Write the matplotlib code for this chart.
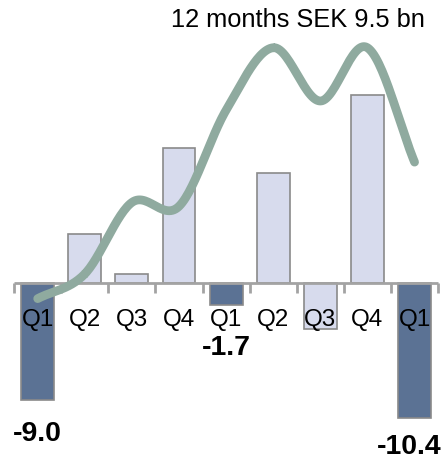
import numpy as np
import matplotlib
matplotlib.use('Agg')
import matplotlib.pyplot as plt

# quarterly result, SEK bn
quarters = ['Q1', 'Q2', 'Q3', 'Q4', 'Q1', 'Q2', 'Q3', 'Q4', 'Q1']
values = [-9.0, 3.8, 0.7, 10.4, -1.7, 8.5, -3.5, 14.5, -10.4]
# rolling 12 months, SEK bn
rolling = [-1.2, 0.7, 6.2, 5.9, 13.3, 18.1, 14.0, 18.1, 9.3]
shown_labels = {0: '-9.0', 4: '-1.7', 8: '-10.4'}
title = '12 months SEK 9.5 bn'

light = '#d7dbed'
dark = '#5b7294'
green = '#8faa9f'
grey = '#a3a3a3'


def catmull_rom(x, y, n=30):
    x = np.asarray(x, float)
    y = np.asarray(y, float)
    px = np.concatenate([[2 * x[0] - x[1]], x, [2 * x[-1] - x[-2]]])
    py = np.concatenate([[2 * y[0] - y[1]], y, [2 * y[-1] - y[-2]]])
    xs, ys = [], []
    t = np.linspace(0, 1, n)
    for i in range(1, len(px) - 2):
        for p, out in ((px, xs), (py, ys)):
            p0, p1, p2, p3 = p[i - 1], p[i], p[i + 1], p[i + 2]
            out.append(0.5 * ((2 * p1) + (-p0 + p2) * t
                              + (2 * p0 - 5 * p1 + 4 * p2 - p3) * t ** 2
                              + (-p0 + 3 * p1 - 3 * p2 + p3) * t ** 3))
    return np.concatenate(xs), np.concatenate(ys)


fig = plt.figure(figsize=(4.48, 4.61), dpi=100)
ax = fig.add_axes([0, 0, 1, 1])
ax.set_xlim(-0.8, 8.71)
ax.set_ylim(-13.69, 21.77)
ax.axis('off')

x = np.arange(len(values))
colors = [dark if q == 'Q1' else light for q in quarters]
ax.bar(x, values, width=0.7, color=colors, edgecolor='#8a8a8a', linewidth=1.2, zorder=2)

# category axis with ticks between the bars
ax.plot([-0.5, len(values) - 0.5], [0, 0], color=grey, lw=2, zorder=3, solid_capstyle='butt')
ax.vlines(np.arange(len(values) + 1) - 0.5, -0.75, 0, color=grey, lw=2, zorder=3)

for i, q in enumerate(quarters):
    ax.text(i, -2.85, q, ha='center', va='center', fontsize=17.5,
            family='Liberation Sans', zorder=5)

for i, lab in shown_labels.items():
    if i == 4:
        y = -5.0
    elif i == 8:
        y = -12.6
    else:
        y = values[i] - 2.6
    xo = -0.12 if i == 8 else 0
    ax.text(i + xo, y, lab, ha='center', va='center', fontsize=20.5, fontweight='bold',
            family='Liberation Sans', zorder=5)

sx, sy = catmull_rom(x, rolling)
ax.plot(sx, sy, color=green, lw=6.3, solid_capstyle='round', zorder=4)

ax.text(5.52, 20.2, title, ha='center', va='center', fontsize=18.3,
        family='Liberation Sans')

fig.savefig('out.png', dpi=100)
